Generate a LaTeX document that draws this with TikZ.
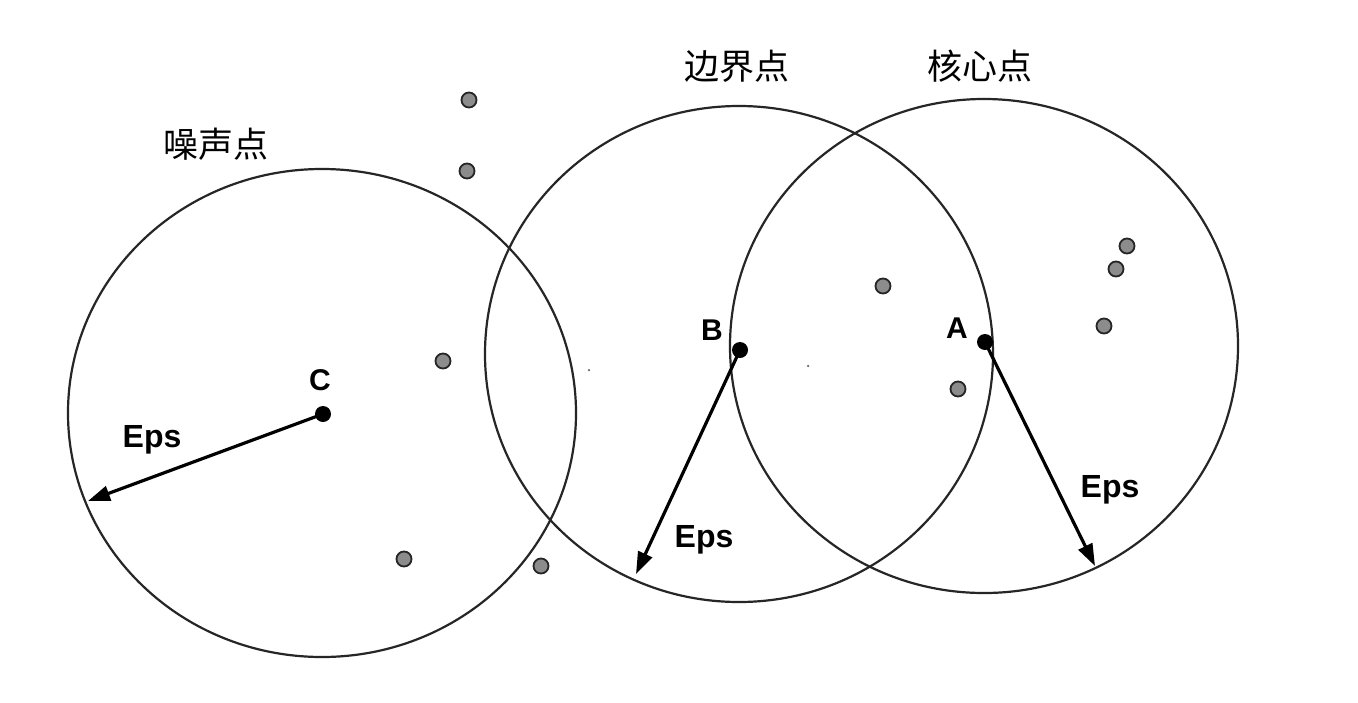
\documentclass[tikz,border=0pt]{standalone}
\usepackage{fontspec}
\newfontfamily\labfont{Liberation Sans}
\newfontfamily\cjk{Noto Sans CJK SC}
\usetikzlibrary{arrows.meta}
\begin{document}
\begin{tikzpicture}[x=1pt,y=-1pt,
  ring/.style={draw=black!85,line width=2.2pt},
  gdot/.style={circle,minimum size=15pt,inner sep=0pt,fill=black!45,draw=black!85,line width=1.8pt},
  bdot/.style={circle,minimum size=16pt,inner sep=0pt,fill=black},
  speck/.style={circle,minimum size=2.5pt,inner sep=0pt,fill=black!60},
  epsarrow/.style={line width=3.2pt,-{Triangle[length=22pt,width=15pt]}},
  eps/.style={font=\labfont\bfseries\fontsize{32}{36}\selectfont,anchor=base,inner sep=0pt},
  letter/.style={font=\labfont\bfseries\fontsize{30}{34}\selectfont,anchor=base,inner sep=0pt},
  cn/.style={font=\cjk\fontsize{35}{40}\selectfont,inner sep=0pt}]
\fill[white] (0,0) rectangle (1358,702);
\useasboundingbox (0,0) rectangle (1358,702);
% circle centres
\coordinate (cC) at (322,413);
\coordinate (cB) at (739,354);
\coordinate (cA) at (984,346);
\draw[ring] (cC) ellipse [x radius=254pt,y radius=244pt];
\draw[ring] (cB) ellipse [x radius=254pt,y radius=248pt];
\draw[ring] (cA) ellipse [x radius=254pt,y radius=247pt];
% labels
\node[cn] (lnoise) at (216,144) {噪声点};
\node[cn] (lborder) at (737,66) {边界点};
\node[cn] (lcore) at (980,66) {核心点};
% grey points
\node[gdot] (g1) at (469,100) {};
\node[gdot] (g2) at (467,171) {};
\node[gdot] (g3) at (443,361) {};
\node[gdot] (g4) at (404,559) {};
\node[gdot] (g5) at (541,566) {};
\node[gdot] (g6) at (883,286) {};
\node[gdot] (g7) at (958,389) {};
\node[gdot] (g8) at (1127,246) {};
\node[gdot] (g9) at (1116,269) {};
\node[gdot] (g10) at (1104,326) {};
\node[speck] (s1) at (589,370) {};
\node[speck] (s2) at (808,366) {};
% main points
\node[bdot] (C) at (323,414) {};
\node[bdot] (B) at (740,350) {};
\node[bdot] (A) at (985,342) {};
\node[letter] (lC) at (320,390) {C};
\node[letter] (lB) at (712,340) {B};
\node[letter] (lA) at (957,338) {A};
% radius arrows
\coordinate (tC) at (88,501);
\coordinate (tB) at (636,574);
\coordinate (tA) at (1095,566);
\draw[epsarrow] (C.center) -- (tC);
\draw[epsarrow] (B.center) -- (tB);
\draw[epsarrow] (A.center) -- (tA);
\node[eps] (eC) at (152,447) {Eps};
\node[eps] (eB) at (704,547) {Eps};
\node[eps] (eA) at (1110,497) {Eps};
\end{tikzpicture}
\end{document}
